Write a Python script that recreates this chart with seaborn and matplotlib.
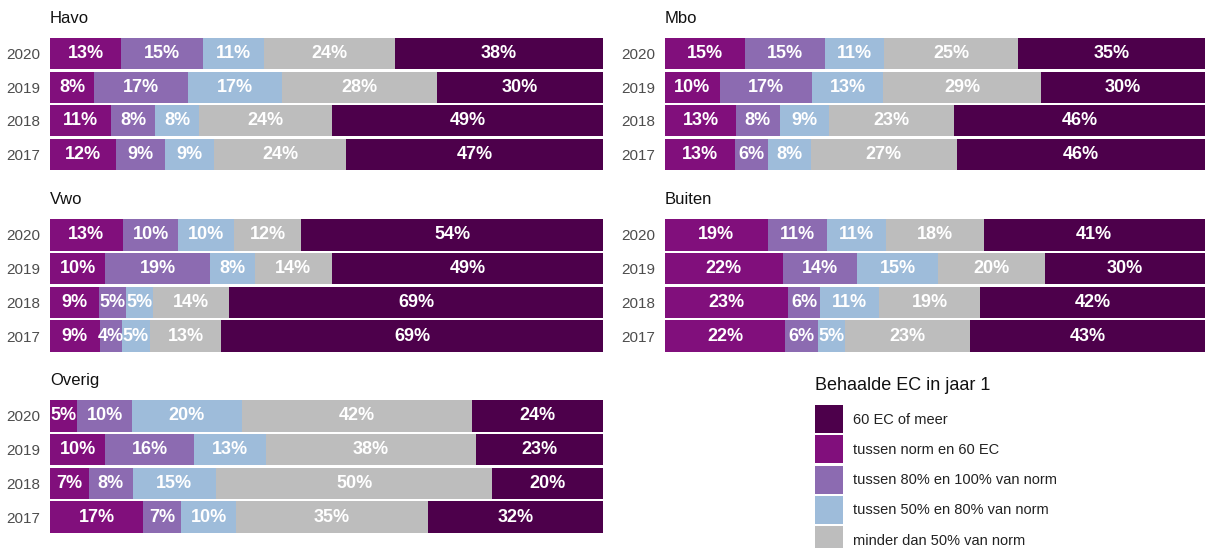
import matplotlib
matplotlib.use("Agg")
import matplotlib.pyplot as plt
import seaborn as sns
import pandas as pd
import numpy as np
from matplotlib.patches import Patch

sns.set_theme(style="white")
plt.rcParams['font.family'] = ['Liberation Sans', 'DejaVu Sans']

years = ["2020", "2019", "2018", "2017"]
categories = ["tussen norm en 60 EC", "tussen 80% en 100% van norm",
              "tussen 50% en 80% van norm", "minder dan 50% van norm", "60 EC of meer"]
colors = ["#810F7C", "#8C6BB1", "#9EBCDA", "#BDBDBD", "#4D004B"]
legend_order = ["60 EC of meer", "tussen norm en 60 EC", "tussen 80% en 100% van norm",
                "tussen 50% en 80% van norm", "minder dan 50% van norm"]
legend_title = "Behaalde EC in jaar 1"

# values per year (2020, 2019, 2018, 2017), in category order above
havo = [[13, 15, 11, 24, 38], [8, 17, 17, 28, 30], [11, 8, 8, 24, 49], [12, 9, 9, 24, 47]]
mbo = [[15, 15, 11, 25, 35], [10, 17, 13, 29, 30], [13, 8, 9, 23, 46], [13, 6, 8, 27, 46]]
vwo = [[13, 10, 10, 12, 54], [10, 19, 8, 14, 49], [9, 5, 5, 14, 69], [9, 4, 5, 13, 69]]
buiten = [[19, 11, 11, 18, 41], [22, 14, 15, 20, 30], [23, 6, 11, 19, 42], [22, 6, 5, 23, 43]]
overig = [[5, 10, 20, 42, 24], [10, 16, 13, 38, 23], [7, 8, 15, 50, 20], [17, 7, 10, 35, 32]]

facets = [("Havo", havo), ("Mbo", mbo), ("Vwo", vwo), ("Buiten", buiten), ("Overig", overig)]

W, H = 1206, 548
fig = plt.figure(figsize=(W / 100, H / 100), dpi=100)

col_x = [(50, 603), (665, 1205)]
row_y = [(37, 171), (218, 353), (399, 534)]


def draw(ax, title, data):
    arr = np.array(data, dtype=float)
    norm = arr / arr.sum(axis=1, keepdims=True) * 100
    cum = np.cumsum(norm, axis=1)
    # draw from last cumulative to first so that earlier segments overlay
    for j in range(len(categories) - 1, -1, -1):
        df = pd.DataFrame({"year": years, "end": cum[:, j]})
        sns.barplot(data=df, x="end", y="year", orient="h", color=colors[j],
                    width=0.94, saturation=1, ax=ax, order=years, linewidth=0)
    for i in range(len(years)):
        start = 0
        for j in range(len(categories)):
            mid = start + norm[i, j] / 2
            ax.text(mid, i, f"{int(arr[i, j])}%", ha="center", va="center",
                    color="white", fontsize=13, fontweight="bold")
            start = cum[i, j]
    ax.set_xlim(0, 100)
    ax.set_ylim(3.5, -0.5)
    ax.set_xlabel("")
    ax.set_ylabel("")
    ax.set_xticks([])
    ax.tick_params(axis="y", length=0, pad=7, labelsize=11, labelcolor="#4d4d4d")
    for s in ax.spines.values():
        s.set_visible(False)
    ax.set_title(title, loc="left", fontsize=12, color="#111111", pad=10)


positions = [(0, 0), (1, 0), (0, 1), (1, 1), (0, 2)]
for (title, data), (c, r) in zip(facets, positions):
    x0, x1 = col_x[c]
    y0, y1 = row_y[r]
    ax = fig.add_axes([x0 / W, 1 - y1 / H, (x1 - x0) / W, (y1 - y0) / H])
    draw(ax, title, data)

fig.text(815 / W, 1 - 386 / H, legend_title, ha="left", va="center",
         fontsize=13, color="#111111")
handles = [Patch(facecolor=colors[categories.index(l)], edgecolor="none") for l in legend_order]
leg = fig.legend(handles, legend_order, loc="upper left",
                 bbox_to_anchor=(815 / W, 1 - 405 / H), frameon=False,
                 fontsize=10.5,
                 handlelength=1.9, handleheight=2.6, labelspacing=0.14,
                 handletextpad=0.7, borderpad=0, borderaxespad=0)
for t in leg.get_texts():
    t.set_color("#222222")

fig.savefig("out.png", dpi=100)
